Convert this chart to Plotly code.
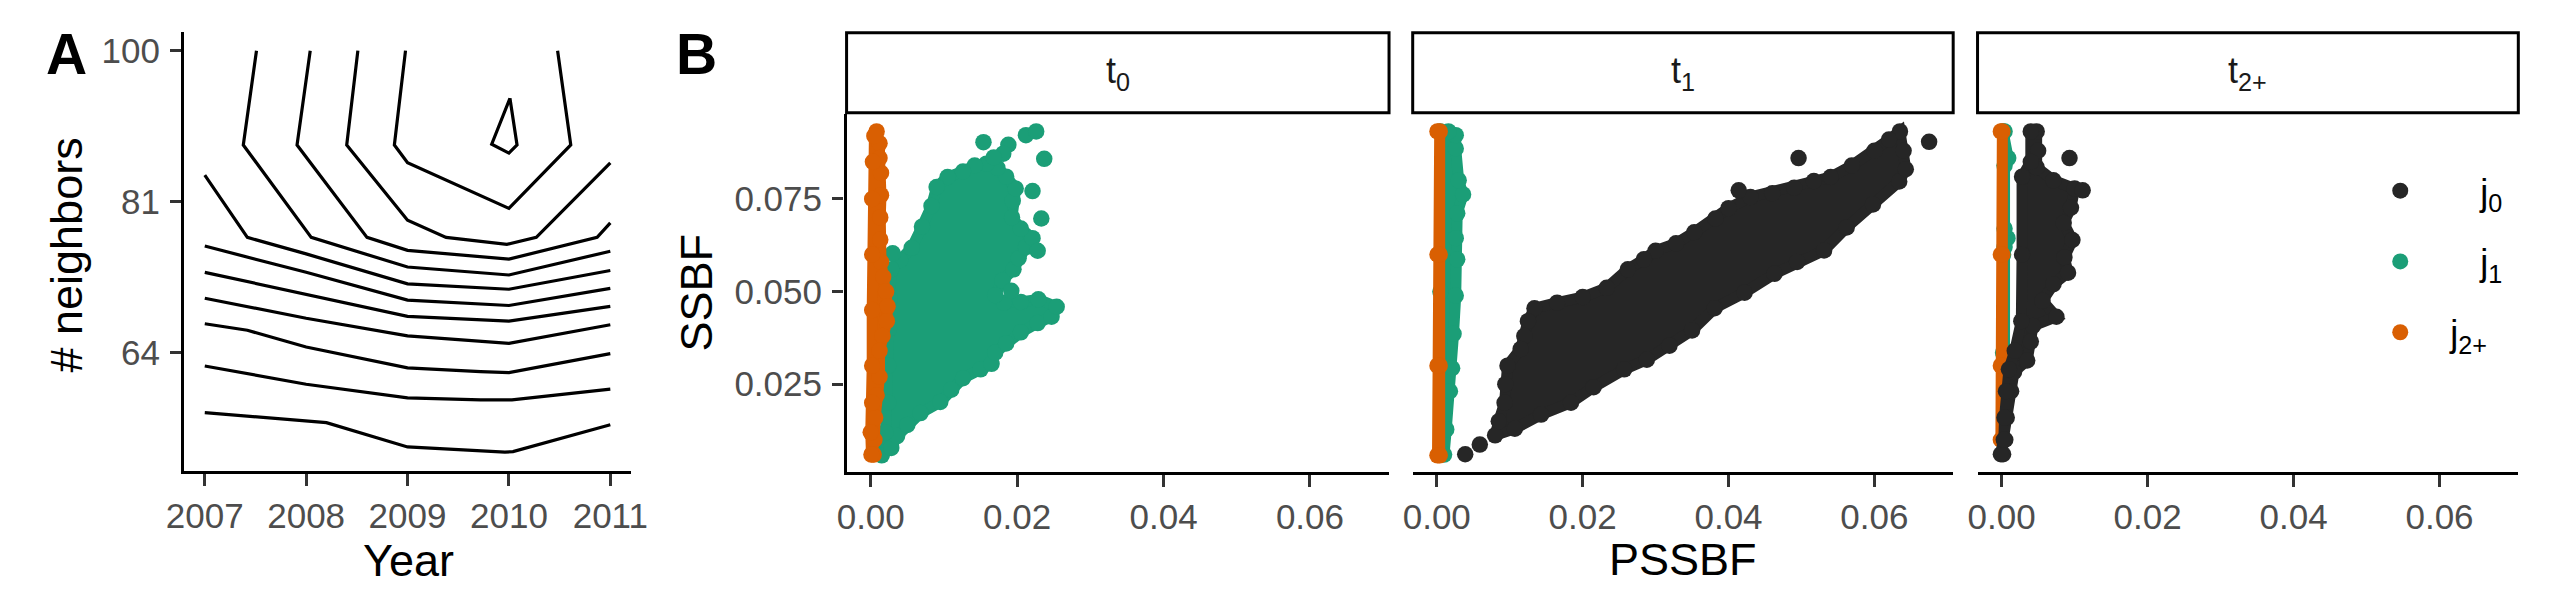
import numpy as np
import plotly.graph_objects as go

W, H = 2550, 600
FONT = "Liberation Sans, Arial, sans-serif"

# ---------------- panel A: contour lines of # neighbors by Year ----------------
years = [2007, 2008, 2009, 2010, 2011]
nb_ticks = [64, 81, 100]

contour_years = [
    [2007.0, 2008.2, 2009.0, 2009.96, 2010.04, 2011.0],
    [2007.0, 2008.0, 2009.0, 2009.72, 2010.03, 2011.0],
    [2007.0, 2007.42, 2008.0, 2009.0, 2009.72, 2010.0, 2011.0],
    [2007.0, 2008.0, 2009.0, 2010.0, 2011.0],
    [2007.0, 2008.0, 2009.0, 2010.0, 2011.0],
    [2007.0, 2008.0, 2009.0, 2010.0, 2011.0],
    [2007.0, 2007.42, 2008.0, 2009.0, 2010.0, 2011.0],
    [2007.51, 2007.38, 2008.05, 2009.0, 2010.0, 2011.0],
    [2008.04, 2007.91, 2008.60, 2009.0, 2010.0, 2010.87, 2011.0],
    [2008.51, 2008.40, 2009.0, 2009.38, 2009.98, 2010.27, 2011.0],
    [2008.98, 2008.87, 2009.0, 2010.0, 2010.61, 2010.48],
    [2010.01, 2009.83, 2010.0, 2010.08, 2010.01],
]
contour_neighbors = [
    [57.8, 56.8, 54.4, 53.9, 53.95, 56.6],
    [62.6, 60.7, 59.3, 59.1, 59.1, 60.2],
    [67.1, 66.4, 64.6, 62.4, 62.0, 61.9, 63.9],
    [69.9, 67.7, 65.8, 65.0, 67.0],
    [72.8, 70.3, 67.9, 67.4, 69.0],
    [75.8, 72.8, 69.7, 69.1, 71.0],
    [84.2, 76.8, 74.9, 71.5, 70.9, 73.0],
    [100.0, 87.9, 76.8, 73.4, 72.5, 75.2],
    [100.0, 87.9, 76.8, 75.3, 74.3, 76.8, 78.5],
    [100.0, 87.9, 78.8, 76.8, 76.0, 76.8, 85.7],
    [100.0, 87.9, 85.7, 80.2, 87.9, 100.0],
    [93.8, 88.0, 86.9, 87.9, 93.8],
]

# ---------------- panel B: SSBF vs PSSBF, faceted by t ----------------
facets = ["t<sub>0</sub>", "t<sub>1</sub>", "t<sub>2+</sub>"]
groups = ["j<sub>0</sub>", "j<sub>1</sub>", "j<sub>2+</sub>"]
group_colors = ["#262626", "#1B9E77", "#D95F02"]
pssbf_ticks = [0.00, 0.02, 0.04, 0.06]
ssbf_ticks = [0.025, 0.050, 0.075]

# edge of each dense point cloud (in drawing order) plus stray points outside it
t0_j1_x = [0.0015, 0.0028, 0.0036, 0.0050, 0.0068, 0.0095, 0.0110, 0.0126, 0.0150, 0.0165,
           0.0170, 0.0185, 0.0205, 0.0228, 0.0247, 0.0254, 0.0229, 0.0205, 0.0182, 0.0170,
           0.0180, 0.0195, 0.0202, 0.0212, 0.0221, 0.0205, 0.0193, 0.0194, 0.0198, 0.0185,
           0.0173, 0.0158, 0.0142, 0.0126, 0.0105, 0.0090, 0.0083, 0.0070, 0.0056, 0.0040,
           0.0028, 0.0026, 0.0025, 0.0024, 0.0024, 0.0020]
t0_j1_y = [0.0058, 0.0078, 0.0110, 0.0140, 0.0172, 0.0202, 0.0235, 0.0266, 0.0290, 0.0305,
           0.0335, 0.0360, 0.0390, 0.0415, 0.0432, 0.0459, 0.0479, 0.0472, 0.0470, 0.0490,
           0.0530, 0.0560, 0.0590, 0.0620, 0.0644, 0.0670, 0.0700, 0.0745, 0.0778, 0.0810,
           0.0834, 0.0845, 0.0840, 0.0824, 0.0809, 0.0782, 0.0731, 0.0675, 0.0618, 0.0585,
           0.0560, 0.0480, 0.0400, 0.0300, 0.0200, 0.0120]
t0_j1_ox = [0.0154, 0.0188, 0.0181, 0.0168, 0.0212, 0.0226, 0.0237, 0.0221, 0.0233, 0.0228,
            0.0192, 0.0030]
t0_j1_oy = [0.0903, 0.0896, 0.0872, 0.0862, 0.0922, 0.0932, 0.0858, 0.0771, 0.0697, 0.0610,
            0.0502, 0.0603]

t0_j2_x = [0.0008, 0.0012, 0.0012, 0.0014, 0.0014, 0.0013, 0.0013, 0.0014, 0.0017, 0.0021,
           0.0023, 0.0022, 0.0016, 0.0012, 0.0012, 0.0008, 0.0006, 0.0005, 0.0004, 0.0001,
           0.0000, 0.0002, 0.0002, 0.0002, 0.0002, 0.0002, 0.0003, 0.0005]
t0_j2_y = [0.0932, 0.0900, 0.0860, 0.0820, 0.0760, 0.0700, 0.0640, 0.0580, 0.0540, 0.0500,
           0.0460, 0.0420, 0.0380, 0.0340, 0.0270, 0.0220, 0.0160, 0.0100, 0.0060, 0.0060,
           0.0120, 0.0200, 0.0300, 0.0450, 0.0600, 0.0750, 0.0850, 0.0920]

t1_j0_x = [0.0080, 0.0107, 0.0143, 0.0184, 0.0215, 0.0257, 0.0288, 0.0319, 0.0350, 0.0381,
           0.0422, 0.0463, 0.0494, 0.0531, 0.0562, 0.0598, 0.0634, 0.0643, 0.0640, 0.0635,
           0.0620, 0.0600, 0.0569, 0.0540, 0.0517, 0.0490, 0.0460, 0.0430, 0.0400, 0.0382,
           0.0353, 0.0328, 0.0300, 0.0284, 0.0262, 0.0233, 0.0200, 0.0165, 0.0134, 0.0125,
           0.0120, 0.0115, 0.0097, 0.0094, 0.0093, 0.0085]
t1_j0_y = [0.0112, 0.0130, 0.0168, 0.0200, 0.0242, 0.0290, 0.0316, 0.0354, 0.0395, 0.0455,
           0.0497, 0.0548, 0.0580, 0.0611, 0.0673, 0.0735, 0.0797, 0.0830, 0.0880, 0.0932,
           0.0910, 0.0880, 0.0840, 0.0809, 0.0798, 0.0780, 0.0765, 0.0755, 0.0725, 0.0697,
           0.0660, 0.0630, 0.0610, 0.0587, 0.0560, 0.0510, 0.0485, 0.0470, 0.0455, 0.0420,
           0.0380, 0.0345, 0.0300, 0.0250, 0.0200, 0.0150]
t1_j0_ox = [0.0039, 0.0059, 0.0675, 0.0496, 0.0414]
t1_j0_oy = [0.0061, 0.0087, 0.0904, 0.0860, 0.0773]

t1_j1_x = [0.0005, 0.0010, 0.0013, 0.0018, 0.0021, 0.0023, 0.0026, 0.0028, 0.0026, 0.0028,
           0.0036, 0.0030, 0.0026, 0.0026, 0.0016, 0.0005, 0.0005]
t1_j1_y = [0.0060, 0.0060, 0.0128, 0.0231, 0.0293, 0.0386, 0.0489, 0.0587, 0.0644, 0.0711,
           0.0762, 0.0800, 0.0886, 0.0922, 0.0932, 0.0932, 0.0500]

t1_j2_x = [0.0001, 0.0004, 0.0004, 0.0004, 0.0004, 0.0001, 0.0001, 0.0001]
t1_j2_y = [0.0058, 0.0058, 0.0300, 0.0600, 0.0932, 0.0932, 0.0600, 0.0300]

t2_j0_x = [0.0048, 0.0050, 0.0048, 0.0071, 0.0100, 0.0095, 0.0085, 0.0097, 0.0086, 0.0091,
           0.0071, 0.0056, 0.0075, 0.0043, 0.0040, 0.0035, 0.0017, 0.0013, 0.0007, 0.0005,
           0.0002, -0.0001, 0.0003, 0.0004, 0.0006, 0.0010, 0.0018, 0.0027, 0.0028, 0.0028,
           0.0040, 0.0040]
t2_j0_y = [0.0932, 0.0880, 0.0835, 0.0800, 0.0778, 0.0726, 0.0685, 0.0639, 0.0592, 0.0551,
           0.0520, 0.0475, 0.0432, 0.0407, 0.0365, 0.0314, 0.0283, 0.0231, 0.0160, 0.0100,
           0.0061, 0.0061, 0.0100, 0.0160, 0.0231, 0.0290, 0.0340, 0.0420, 0.0600, 0.0810,
           0.0850, 0.0932]
t2_j0_ox = [0.0093, 0.0111]
t2_j0_oy = [0.0860, 0.0773]

t2_j1_x = [0.0002, 0.0004, 0.0004, 0.0008, 0.0004, 0.0004, 0.0009, 0.0004, 0.0002, 0.0002]
t2_j1_y = [0.0335, 0.0335, 0.0620, 0.0644, 0.0670, 0.0840, 0.0860, 0.0932, 0.0932, 0.0600]

t2_j2_x = [-0.0001, 0.0001, 0.0001, 0.0001, 0.0001, -0.0001, -0.0001, -0.0001]
t2_j2_y = [0.0100, 0.0100, 0.0300, 0.0600, 0.0932, 0.0932, 0.0600, 0.0300]

# (facet index, group index, edge x, edge y, stray x, stray y)
clouds = [
    (0, 1, t0_j1_x, t0_j1_y, t0_j1_ox, t0_j1_oy),
    (0, 2, t0_j2_x, t0_j2_y, [], []),
    (1, 1, t1_j1_x, t1_j1_y, [], []),
    (1, 2, t1_j2_x, t1_j2_y, [], []),
    (1, 0, t1_j0_x, t1_j0_y, t1_j0_ox, t1_j0_oy),
    (2, 1, t2_j1_x, t2_j1_y, [], []),
    (2, 2, t2_j2_x, t2_j2_y, [], []),
    (2, 0, t2_j0_x, t2_j0_y, t2_j0_ox, t2_j0_oy),
]
legend_names = ["\u00a0" * 6 + groups[0], "\u00a0" * 6 + groups[1], "\u00a0" * 3 + groups[2]]


# pixel position on the 2550x600 canvas -> paper fraction
def fx(p):
    return p / W


def fy(p):
    return 1 - p / H


a_dom_x = [fx(160.7), fx(613)]
a_dom_y = [fy(463), fy(23)]
b_dom_x = [[fx(832), fx(1382)], [fx(1406), fx(1954)], [fx(1978.7), fx(2527)]]
b_dom_y = [fy(463.8), fy(105.2)]
strip_y = [fy(104), fy(23.7)]

fig = go.Figure()

for cx, cy in zip(contour_years, contour_neighbors):
    fig.add_trace(go.Scatter(
        x=cx, y=np.sqrt(cy), mode="lines", xaxis="x", yaxis="y",
        line=dict(color="black", width=3.2), showlegend=False, hoverinfo="skip",
    ))

# dense clouds: filled edge polygon + the points themselves
shown = set()
for fi, gi, ex, ey, ox, oy in clouds:
    xa, ya = "x%d" % (fi + 2), "y%d" % (fi + 2)
    col = group_colors[gi]
    fig.add_trace(go.Scatter(
        x=ex + ex[:1], y=ey + ey[:1], mode="lines", fill="toself", fillcolor=col,
        line=dict(color=col, width=11), xaxis=xa, yaxis=ya,
        showlegend=False, hoverinfo="skip",
    ))
    fig.add_trace(go.Scatter(
        x=ex + ox, y=ey + oy, mode="markers", xaxis=xa, yaxis=ya,
        marker=dict(color=col, size=16.5, line=dict(width=0)),
        name=legend_names[gi], legendgroup="g%d" % gi, legendrank=gi + 1,
        showlegend=gi not in shown,
    ))
    shown.add(gi)

axis_style = dict(
    showline=True, linecolor="black", linewidth=3.2, ticks="outside", ticklen=11.5,
    tickwidth=3.2, tickcolor="#333333", showgrid=False, zeroline=False,
    tickfont=dict(family=FONT, size=35, color="#4D4D4D"),
)

layout = dict(
    width=W, height=H, autosize=False,
    margin=dict(l=0, r=0, t=0, b=0),
    paper_bgcolor="white", plot_bgcolor="white",
    font=dict(family=FONT, color="black"),
    xaxis=dict(axis_style, domain=a_dom_x, anchor="y", range=[2006.8, 2011.2],
               tickvals=years, ticklabelstandoff=0),
    yaxis=dict(axis_style, domain=a_dom_y, anchor="x", range=[7.215, 10.124],
               tickvals=list(np.sqrt(nb_ticks)), ticktext=[str(v) for v in nb_ticks],
               ticklabelstandoff=3),
    legend=dict(x=fx(2387), y=fy(152), xanchor="left", yanchor="top",
                font=dict(family=FONT, size=36, color="black"),
                bgcolor="rgba(0,0,0,0)", tracegroupgap=21, itemsizing="trace"),
    showlegend=True,
)
for i in range(3):
    layout["xaxis%d" % (i + 2)] = dict(
        axis_style, domain=b_dom_x[i], anchor="y%d" % (i + 2), range=[-0.0033, 0.0708],
        tickvals=pssbf_ticks, tickformat=".2f", ticklabelstandoff=0,
    )
    ystyle = dict(domain=b_dom_y, anchor="x%d" % (i + 2), range=[0.0013, 0.0979],
                  showgrid=False, zeroline=False)
    if i == 0:
        ystyle.update(axis_style, tickvals=ssbf_ticks, tickformat=".3f", ticklabelstandoff=3)
    else:
        ystyle.update(showline=False, ticks="", showticklabels=False)
    layout["yaxis%d" % (i + 2)] = ystyle

fig.update_layout(**layout)

shapes = []
annotations = []
for i, lab in enumerate(facets):
    shapes.append(dict(type="rect", xref="paper", yref="paper",
                       x0=b_dom_x[i][0], x1=b_dom_x[i][1], y0=strip_y[0], y1=strip_y[1],
                       line=dict(color="black", width=3), fillcolor="white", layer="below"))
    annotations.append(dict(text=lab, xref="paper", yref="paper",
                            x=(b_dom_x[i][0] + b_dom_x[i][1]) / 2, y=fy(64),
                            showarrow=False, xanchor="center", yanchor="middle",
                            font=dict(family=FONT, size=36, color="#1A1A1A")))

title_font = dict(family=FONT, size=45, color="black")
annotations += [
    dict(text="<b>A</b>", x=fx(40.8), y=fy(45), font=dict(family=FONT, size=57, color="black")),
    dict(text="<b>B</b>", x=fx(680), y=fy(45), font=dict(family=FONT, size=57, color="black")),
    dict(text="Year", x=fx(388), y=fy(552), font=title_font),
    dict(text="PSSBF", x=fx(1680), y=fy(551), font=title_font),
    dict(text="# neighbors", x=fx(41.5), y=fy(246), textangle=-90, font=title_font),
    dict(text="SSBF", x=fx(679.4), y=fy(284), textangle=-90, font=title_font),
]
for a in annotations[len(facets):]:
    a.update(xref="paper", yref="paper", showarrow=False, xanchor="center", yanchor="middle")

fig.update_layout(shapes=shapes, annotations=annotations)

fig.write_html("out.html", config={"displayModeBar": False})
